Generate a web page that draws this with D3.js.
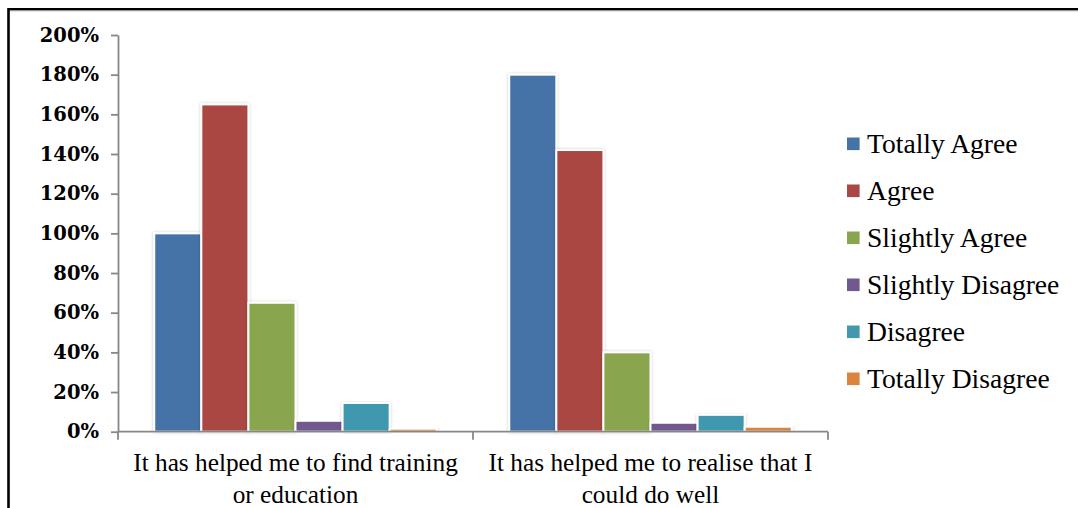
<!DOCTYPE html>
<html>
<head>
<meta charset="utf-8">
<script src="https://cdn.jsdelivr.net/npm/d3@7"></script>
<style>
  html, body { margin: 0; padding: 0; background: #fff; }
  svg { display: block; }
</style>
</head>
<body>
<svg id="chart" width="1078" height="508"></svg>
<script>
const categories = [
  ["It has helped me to find training", "or education"],
  ["It has helped me to realise that I", "could do well"]
];
const series = ["Totally Agree", "Agree", "Slightly Agree", "Slightly Disagree", "Disagree", "Totally Disagree"];
const colors = ["#4572A7", "#AA4643", "#89A54E", "#71588F", "#4198AF", "#DB843D"];
const valuesTrainingEducation = [1.00, 1.65, 0.65, 0.055, 0.145, 0.015];
const valuesRealiseDoWell   = [1.80, 1.42, 0.40, 0.045, 0.085, 0.025];
const yTicks = [0, 0.2, 0.4, 0.6, 0.8, 1.0, 1.2, 1.4, 1.6, 1.8, 2.0];

(function () {
const values = [valuesTrainingEducation, valuesRealiseDoWell];
const catKeys = categories.map((c, i) => "c" + i);

const svg = d3.select("#chart");

// frame
svg.append("path")
  .attr("d", "M8.5,508 L8.5,9.2 L1078,9.2")
  .attr("fill", "none").attr("stroke", "#000").attr("stroke-width", 2.6);
svg.append("line").attr("x1", 10).attr("x2", 1078).attr("y1", 11).attr("y2", 11)
  .attr("stroke", "#bbb").attr("stroke-width", 0.8);

const defs = svg.append("defs");
const f = defs.append("filter").attr("id", "shadow")
  .attr("x", "-20%").attr("y", "-5%").attr("width", "140%").attr("height", "110%");
f.append("feDropShadow").attr("dx", 0).attr("dy", 0).attr("stdDeviation", 1.6)
  .attr("flood-color", "#000").attr("flood-opacity", 0.22);

const pLeft = 118, pRight = 828, pTop = 35, pBottom = 431.7;

const y = d3.scaleLinear().domain([0, 2]).range([pBottom, pTop]);
const x0 = d3.scaleBand().domain(catKeys).range([pLeft, pRight]).paddingInner(0).paddingOuter(0);
const x1 = d3.scaleBand().domain(series).range([0, x0.bandwidth()]).paddingInner(0).paddingOuter(0.77);

// bars
const groups = svg.append("g").selectAll("g").data(catKeys).join("g")
  .attr("transform", d => `translate(${x0(d)},0)`);
groups.selectAll("rect")
  .data((d, i) => values[i].map((v, j) => ({ s: series[j], v, c: colors[j] })))
  .join("rect")
  .attr("x", d => x1(d.s))
  .attr("y", d => y(d.v))
  .attr("width", x1.bandwidth())
  .attr("height", d => pBottom - y(d.v))
  .attr("fill", d => d.c)
  .attr("stroke", "#fff")
  .attr("stroke-width", 2)
  .attr("filter", "url(#shadow)");

// y axis
const yAxis = d3.axisLeft(y).tickValues(yTicks).tickFormat(d3.format(".0%"))
  .tickSize(7).tickSizeOuter(0).tickPadding(12);
const gy = svg.append("g").attr("transform", `translate(${pLeft},0)`).call(yAxis);
gy.select(".domain").attr("stroke", "#878787").attr("stroke-width", 1.8);
gy.selectAll(".tick line").attr("stroke", "#878787").attr("stroke-width", 1.8);
gy.selectAll(".tick text")
  .attr("fill", "#000")
  .style("font-family", "'DejaVu Serif', serif")
  .style("font-weight", "bold")
  .style("font-size", "19.5px");

// x axis
svg.append("line").attr("x1", pLeft).attr("x2", pRight).attr("y1", pBottom).attr("y2", pBottom)
  .attr("stroke", "#878787").attr("stroke-width", 1.8);
const bounds = catKeys.map(k => x0(k)).concat([x0(catKeys[catKeys.length - 1]) + x0.bandwidth()]);
svg.append("g").selectAll("line").data(bounds).join("line")
  .attr("x1", d => d).attr("x2", d => d)
  .attr("y1", pBottom).attr("y2", pBottom + 8)
  .attr("stroke", "#878787").attr("stroke-width", 1.8);

// x labels
const lbl = svg.append("g").selectAll("text").data(catKeys).join("text")
  .attr("text-anchor", "middle")
  .style("font-family", "'Liberation Serif', serif")
  .style("font-size", "25.3px")
  .attr("fill", "#000");
lbl.each(function(d, i) {
  const t = d3.select(this);
  categories[i].forEach((line, k) => {
    t.append("tspan").attr("x", x0(d) + x0.bandwidth() / 2).attr("y", 471 + k * 31.5).text(line);
  });
});

// legend
const legend = svg.append("g").attr("transform", "translate(847,0)");
const rows = legend.selectAll("g").data(series).join("g")
  .attr("transform", (d, i) => `translate(0,${143.8 + i * 47})`);
rows.append("rect").attr("x", 0).attr("y", -6.3).attr("width", 12.6).attr("height", 12.6)
  .attr("fill", (d, i) => colors[i]);
rows.append("text").attr("x", 20).attr("y", 8.8)
  .style("font-family", "'Liberation Serif', serif")
  .style("font-size", "27.6px")
  .attr("fill", "#000")
  .text(d => d);
})();
</script>
</body>
</html>
